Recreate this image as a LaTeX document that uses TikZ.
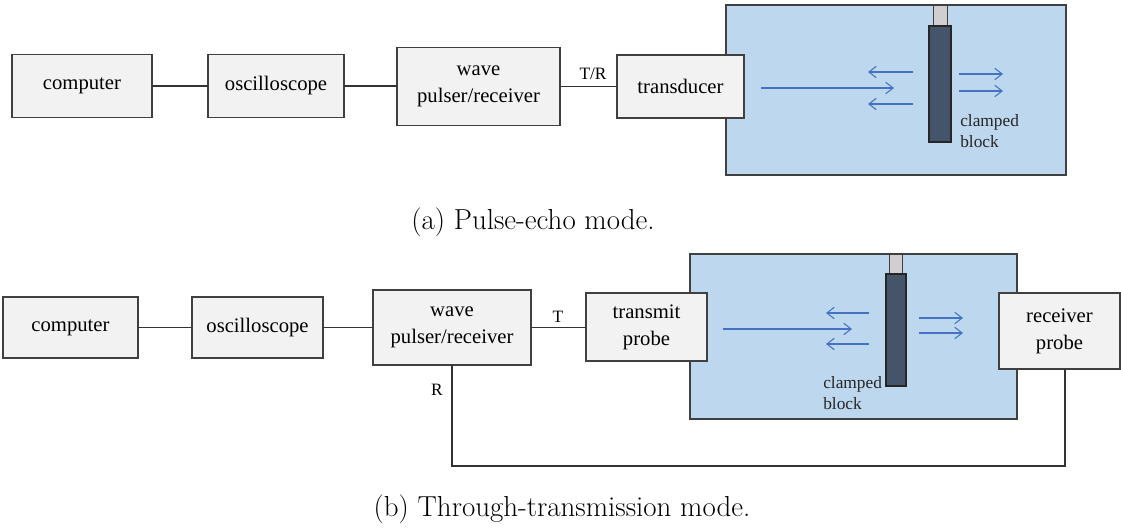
\documentclass[tikz,border=0pt]{standalone}
\usepackage{fontspec}
\newfontfamily\tnr{Liberation Serif}
\usetikzlibrary{arrows.meta}
\definecolor{boxfill}{HTML}{F2F2F2}
\definecolor{boxline}{HTML}{404040}
\definecolor{connline}{HTML}{333333}
\definecolor{tankfill}{HTML}{BDD7EE}
\definecolor{blockfill}{HTML}{44546A}
\definecolor{clampfill}{HTML}{D0CECE}
\definecolor{wavecol}{HTML}{4472C4}
\begin{document}
\begin{tikzpicture}[x=0.75pt,y=-0.75pt,
  box/.style={draw=boxline, fill=boxfill, line width=0.9pt, inner sep=0pt, outer sep=0pt, align=center,
    font=\tnr\fontsize{15.5}{20.3}\selectfont, text=black},
  conn/.style={draw=connline, line width=1pt},
  tank/.style={draw=boxline, fill=tankfill, line width=0.9pt},
  blockshape/.style={draw=black!85, fill=blockfill, line width=0.9pt},
  clampshape/.style={draw=boxline, fill=clampfill, line width=0.7pt},
  wavearrow/.style={draw=wavecol, line width=0.8pt, -{Straight Barb[length=5.5pt,width=8.5pt]}},
  tag/.style={font=\tnr\fontsize{13}{15}\selectfont, text=black, inner sep=0pt},
  blocklabel/.style={font=\tnr\fontsize{13}{16}\selectfont, text=black!85, align=left, inner sep=0pt},
  caption/.style={font=\fontsize{21.7}{26}\selectfont, inner sep=0pt}]
\useasboundingbox (0,0) rectangle (1121,530);

% ---------- (a) pulse-echo ----------
\draw[tank] (726,5) rectangle (1066,175);
\draw[clampshape] (933,5) rectangle (947,26);
\draw[blockshape] (929,26) rectangle (951,142);
\draw[wavearrow] (761,88) -- (894,88);
\draw[wavearrow] (913,72) -- (868,72);
\draw[wavearrow] (913,104) -- (868,104);
\draw[wavearrow] (959,74) -- (1003,74);
\draw[wavearrow] (959,91) -- (1003,91);
\node[blocklabel, anchor=west] (cbA) at (960,131) {clamped\\block};

\node[box, minimum width=105pt, minimum height=47.25pt] (compA) at (82,86) {computer};
\node[box, minimum width=102pt, minimum height=47.25pt] (oscA) at (276,86) {oscilloscope};
\node[box, minimum width=122.25pt, minimum height=58.5pt] (waveA) at (478.5,86.5) {wave\\pulser/receiver};
\node[box, minimum width=95.25pt, minimum height=47.25pt] (transA) at (680.5,86.5) {transducer};

\draw[conn] (compA.east) -- (compA.east -| oscA.west);
\draw[conn] (oscA.east) -- (oscA.east -| waveA.west);
\draw[conn] (waveA.east) -- (waveA.east -| transA.west);
\node[tag] (trA) at (593,74) {T/R};

\node[caption] (capA) at (533,222) {(a) Pulse-echo mode.};

% ---------- (b) through-transmission ----------
\draw[tank] (690,254) rectangle (1017,419);
\draw[clampshape] (889,254) rectangle (902,274);
\draw[blockshape] (886,274) rectangle (906,386);
\draw[wavearrow] (723,329) -- (852,329);
\draw[wavearrow] (869,313) -- (826,313);
\draw[wavearrow] (869,344) -- (826,344);
\draw[wavearrow] (919,318) -- (963,318);
\draw[wavearrow] (919,333) -- (963,333);
\node[blocklabel, anchor=west] (cbB) at (823,393) {clamped\\block};

\node[box, minimum width=101.25pt, minimum height=45.75pt] (compB) at (70.5,327.5) {computer};
\node[box, minimum width=98.25pt, minimum height=45.75pt] (oscB) at (257.5,327.5) {oscilloscope};
\node[box, minimum width=118.5pt, minimum height=56.25pt] (waveB) at (452,327.5) {wave\\pulser/receiver};
\node[box, minimum width=90.75pt, minimum height=51pt] (sendB) at (646.5,327) {transmit\\probe};
\node[box, minimum width=90.75pt, minimum height=57pt] (recvB) at (1059.5,331) {receiver\\probe};

\draw[conn] (compB.east) -- (compB.east -| oscB.west);
\draw[conn] (oscB.east) -- (oscB.east -| waveB.west);
\draw[conn] (waveB.east) -- (waveB.east -| sendB.west);
\coordinate (loopL) at (452,466);
\coordinate (loopR) at (1065,466);
\draw[conn] (waveB.south) -- (loopL) -- (loopR) -- (recvB.south -| loopR);
\node[tag] (tB) at (558,317) {T};
\node[tag] (rB) at (437,390) {R};

\node[caption] (capB) at (562,509) {(b) Through-transmission mode.};
\end{tikzpicture}
\end{document}
